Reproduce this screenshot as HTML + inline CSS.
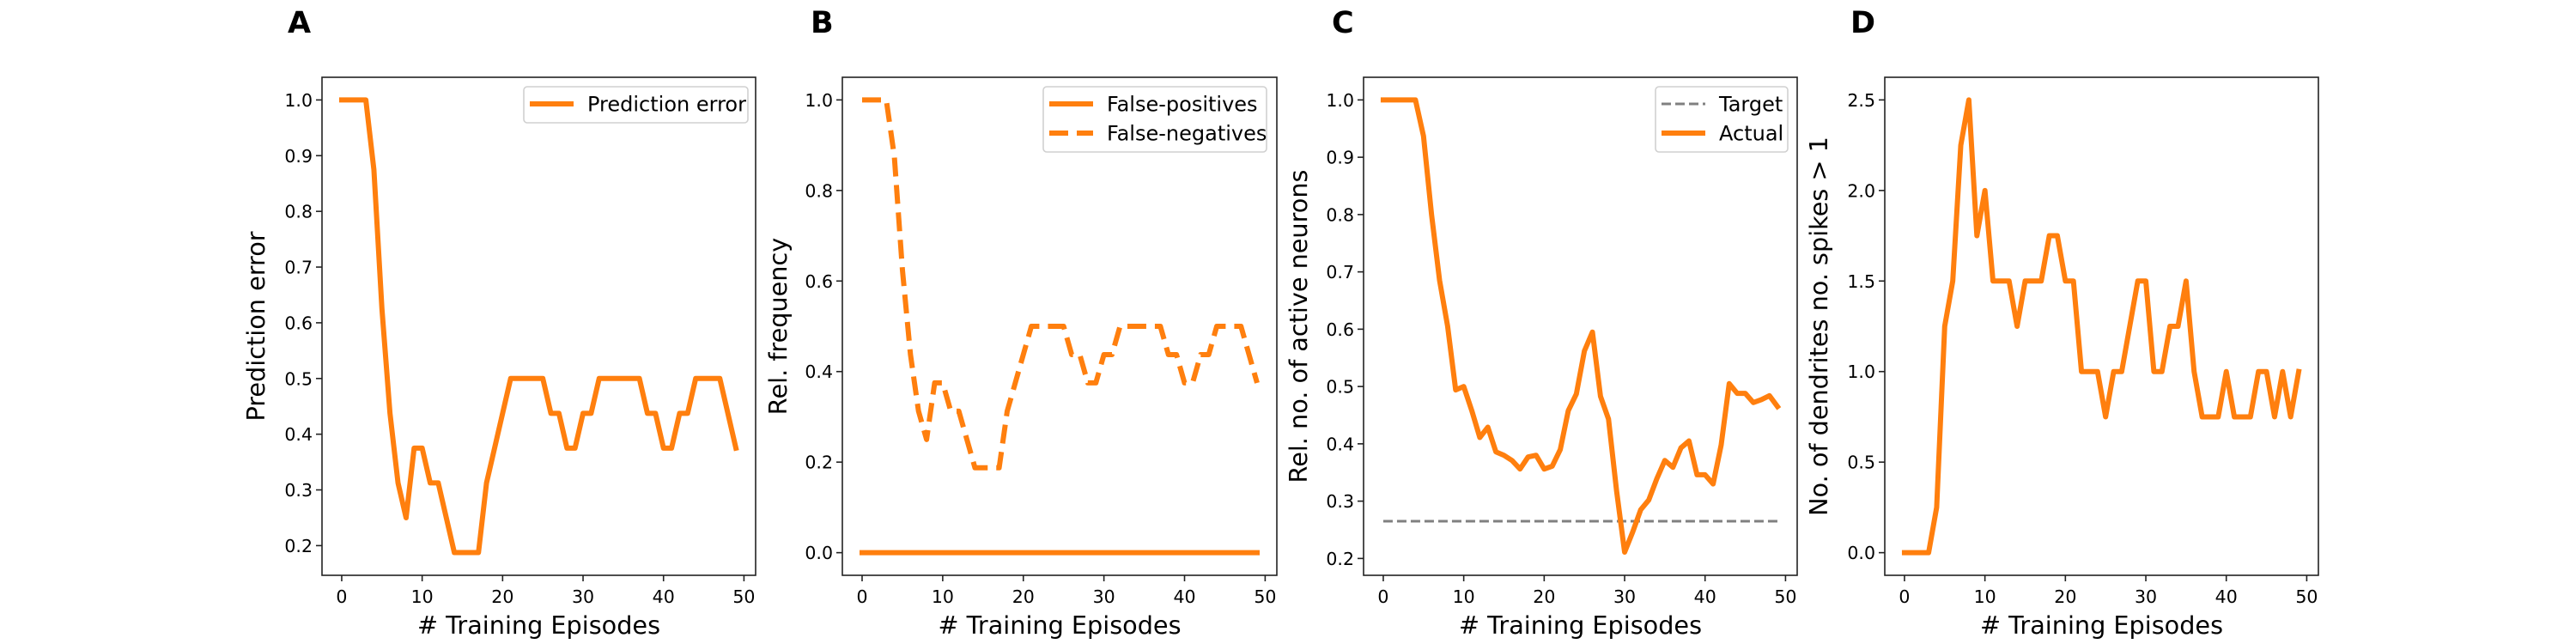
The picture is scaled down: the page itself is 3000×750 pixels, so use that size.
<!DOCTYPE html>
<html><head><meta charset="utf-8"><style>
html,body{margin:0;padding:0;background:#fff;}
svg{display:block;font-family:"DejaVu Sans","Liberation Sans",sans-serif;}
</style></head><body>
<svg id="fig" width="3000" height="750" viewBox="0 0 3000 750" xmlns="http://www.w3.org/2000/svg"></svg>
<script>
const episodes = Array.from({length:50},(_,i)=>i);
const predError = [1,1,1,1,0.875,0.625,0.4375,0.3125,0.25,0.375,0.375,0.3125,0.3125,0.25,0.1875,0.1875,0.1875,0.1875,0.3125,0.375,0.4375,0.5,0.5,0.5,0.5,0.5,0.4375,0.4375,0.375,0.375,0.4375,0.4375,0.5,0.5,0.5,0.5,0.5,0.5,0.4375,0.4375,0.375,0.375,0.4375,0.4375,0.5,0.5,0.5,0.5,0.4375,0.375];
const falsePos = Array(50).fill(0);
const falseNeg = [1,1,1,1,0.875,0.625,0.4375,0.3125,0.25,0.375,0.375,0.3125,0.3125,0.25,0.1875,0.1875,0.1875,0.1875,0.3125,0.375,0.4375,0.5,0.5,0.5,0.5,0.5,0.4375,0.4375,0.375,0.375,0.4375,0.4375,0.5,0.5,0.5,0.5,0.5,0.5,0.4375,0.4375,0.375,0.375,0.4375,0.4375,0.5,0.5,0.5,0.5,0.4375,0.375];
const activeActual = [1,1,1,1,1,0.937,0.80,0.685,0.605,0.494,0.50,0.458,0.411,0.429,0.386,0.38,0.371,0.356,0.377,0.38,0.356,0.361,0.39,0.458,0.487,0.562,0.595,0.483,0.443,0.318,0.211,0.246,0.285,0.302,0.339,0.371,0.359,0.393,0.405,0.346,0.346,0.33,0.398,0.505,0.488,0.488,0.472,0.477,0.484,0.465];
const activeTarget = Array(50).fill(0.265);
const dendrites = [0,0,0,0,0.25,1.25,1.5,2.25,2.5,1.75,2.0,1.5,1.5,1.5,1.25,1.5,1.5,1.5,1.75,1.75,1.5,1.5,1,1,1,0.75,1,1,1.25,1.5,1.5,1,1,1.25,1.25,1.5,1,0.75,0.75,0.75,1,0.75,0.75,0.75,1,1,0.75,1,0.75,1];
const xTicks = [0,10,20,30,40,50];
const yTicksA = [0.2,0.3,0.4,0.5,0.6,0.7,0.8,0.9,1.0];
const yTicksB = [0.0,0.2,0.4,0.6,0.8,1.0];
const yTicksC = [0.2,0.3,0.4,0.5,0.6,0.7,0.8,0.9,1.0];
const yTicksD = [0.0,0.5,1.0,1.5,2.0,2.5];

const NS="http://www.w3.org/2000/svg";
const svg=document.getElementById('fig');
function mk(tag,attrs,parent){const e=document.createElementNS(NS,tag);for(const k in attrs)e.setAttribute(k,attrs[k]);(parent||svg).appendChild(e);return e;}
const ORANGE="#ff7f0e";

function panel(cfg){
  const g=mk('g',{});
  
  
  const L=cfg.left,R=cfg.right,T=90,B=670;
  const xmin=-2.45,xmax=51.45;
  const sx=v=>L+(v-xmin)/(xmax-xmin)*(R-L);
  const sy=v=>B-(v-cfg.ymin)/(cfg.ymax-cfg.ymin)*(B-T);
  cfg.series.forEach(s=>{
    const d=s.y.map((v,i)=>(i?'L':'M')+sx(episodes[i]).toFixed(2)+' '+sy(v).toFixed(2)).join(' ');
    const p=mk('path',{d:d,fill:'none',stroke:s.color,'stroke-width':s.w,'stroke-linejoin':'round','stroke-linecap':s.dash?'butt':'square'},g);
    if(s.dash)p.setAttribute('stroke-dasharray',s.dash);
    
    
  });
  const fr=mk('rect',{x:L,y:T,width:R-L,height:B-T,fill:'none',stroke:'#222','stroke-width':1.6},g);
  
  
  xTicks.forEach(t=>{
    const x=sx(t);
    mk('line',{x1:x,x2:x,y1:B,y2:B+7,stroke:'#222','stroke-width':1.6},g);
    const tx=mk('text',{x:x,y:702,'font-size':20.5,'text-anchor':'middle',fill:'#000'},g);
    tx.textContent=String(t);
    
    
  });
  cfg.yticks.forEach(t=>{
    const y=sy(t);
    mk('line',{x1:L-7,x2:L,y1:y,y2:y,stroke:'#222','stroke-width':1.6},g);
    const tx=mk('text',{x:L-11,y:y+7.5,'font-size':20.5,'text-anchor':'end',fill:'#000'},g);
    tx.textContent=t.toFixed(1);
    
    
  });
  const xl=mk('text',{x:(L+R)/2,y:738,'font-size':28.7,'text-anchor':'middle',fill:'#000'},g);
  xl.textContent='# Training Episodes';
  
  
  const yl=mk('text',{x:0,y:0,'font-size':28.7,'text-anchor':'middle',fill:'#000',transform:`translate(${cfg.ylx},${(T+B)/2}) rotate(-90)`},g);
  yl.textContent=cfg.ylabel;
  
  
  const lt=mk('text',{x:cfg.letterX,y:38,'font-size':35,'font-weight':'bold',fill:'#000'},g);
  lt.textContent=cfg.letter;
  
  
  const lg=cfg.legend;
  if(!lg)return;
  const lb=mk('g',{},g);
  
  
  mk('rect',{x:lg.x,y:101,width:lg.w,height:lg.entries.length*34+8,rx:4,fill:'#fff','fill-opacity':0.8,stroke:'#d0d0d0','stroke-width':1.6},lb);
  lg.entries.forEach((e,i)=>{
    const yy=121+i*34;
    const ln=mk('line',{x1:lg.x+7,x2:lg.x+58,y1:yy,y2:yy,stroke:e.color,'stroke-width':e.w},lb);
    if(e.dash)ln.setAttribute('stroke-dasharray',e.dash);
    const t=mk('text',{x:lg.x+74,y:yy+8.5,'font-size':24,fill:'#000'},lb);
    t.textContent=e.label;
    
    
  });
}

panel({name:'panel-a-prediction-error',left:375,right:880,ymin:0.1467,ymax:1.0407,yticks:yTicksA,ylabel:'Prediction error',ylx:308,letter:'A',letterX:335,
  series:[{name:'prediction-error-line',y:predError,color:ORANGE,w:6}],
  legend:{x:610,w:261,entries:[{label:'Prediction error',color:ORANGE,w:6}]}});
panel({name:'panel-b-rel-frequency',left:981,right:1487,ymin:-0.05,ymax:1.05,yticks:yTicksB,ylabel:'Rel. frequency',ylx:916,letter:'B',letterX:944,
  series:[{name:'false-positives-line',y:falsePos,color:ORANGE,w:6},{name:'false-negatives-line',y:falseNeg,color:ORANGE,w:6,dash:'22 10'}],
  legend:{x:1215,w:260,entries:[{label:'False-positives',color:ORANGE,w:6},{label:'False-negatives',color:ORANGE,w:6,dash:'22 10'}]}});
panel({name:'panel-c-active-neurons',left:1588,right:2093,ymin:0.1706,ymax:1.0395,yticks:yTicksC,ylabel:'Rel. no. of active neurons',ylx:1522,letter:'C',letterX:1551,
  series:[{name:'target-line',y:activeTarget,color:'#808080',w:3,dash:'11 5'},{name:'actual-line',y:activeActual,color:ORANGE,w:6}],
  legend:{x:1928,w:154,entries:[{label:'Target',color:'#808080',w:3,dash:'11 5'},{label:'Actual',color:ORANGE,w:6}]}});
panel({name:'panel-d-dendrite-spikes',left:2195,right:2700,ymin:-0.125,ymax:2.625,yticks:yTicksD,ylabel:'No. of dendrites no. spikes > 1',ylx:2128,letter:'D',letterX:2155,
  series:[{name:'dendrites-line',y:dendrites,color:ORANGE,w:6}],
  legend:null});
</script>
</body></html>
